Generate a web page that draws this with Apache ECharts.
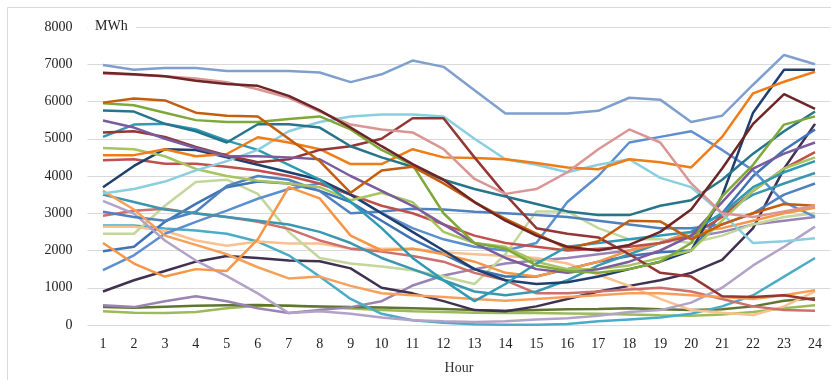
<!DOCTYPE html>
<html>
<head>
<meta charset="utf-8">
<script src="https://cdn.jsdelivr.net/npm/echarts@6/dist/echarts.min.js"></script>
<style>
  html, body { margin: 0; padding: 0; background: #ffffff; }
  #chart { width: 831px; height: 380px; }
</style>
</head>
<body>
<div id="chart"></div>
<script>
// Hourly load profiles (MWh) for 24 hours of the day
const hours = ['1','2','3','4','5','6','7','8','9','10','11','12','13','14','15','16','17','18','19','20','21','22','23','24'];
const yTicks = [0, 1000, 2000, 3000, 4000, 5000, 6000, 7000, 8000];

const loadSteelBlue   = [6980,6850,6900,6900,6820,6820,6820,6780,6520,6730,7100,6930,6300,5680,5680,5680,5750,6100,6050,5450,5620,6450,7250,7000];
const loadMaroon      = [6770,6730,6680,6560,6470,6420,6150,5760,5300,4800,4320,3900,3300,2800,2400,2100,2000,2150,2500,3100,4200,5400,6200,5800];
const loadRose        = [6750,6720,6680,6620,6520,6330,6100,5730,5380,5250,5170,4720,3920,3520,3650,4100,4720,5250,4900,3800,3000,2900,3050,3200];
const loadBurnt       = [5970,6080,6030,5700,5620,5600,5000,4400,3550,4150,4250,3800,3300,2850,2450,2050,2250,2800,2780,2300,2700,3000,3250,3200];
const loadGreen       = [5950,5900,5700,5500,5450,5450,5530,5600,5250,4700,4300,3000,2200,2050,1600,1450,1400,1500,1700,2200,3450,4300,5380,5600];
const loadTeal        = [5760,5730,5400,5200,4900,5390,5390,5300,4800,4500,4250,3900,3650,3450,3250,3050,2950,2950,3200,3350,3900,4600,5200,5730];
const loadPurple      = [5490,5300,5000,4750,4530,4530,4500,4450,4000,3600,3200,2700,2200,1800,1500,1400,1500,1700,2000,2400,3300,4200,4600,4900];
const loadBrickRed    = [5170,5200,5050,4780,4550,4370,4450,4700,4800,5000,5550,5550,4500,3500,2600,2450,2350,1900,1400,1300,770,750,800,670];
const loadAqua        = [5050,5380,5400,5250,4950,4700,4300,3900,3300,2600,1800,1200,640,1100,1650,2100,2200,2300,2400,2500,3000,3700,4100,4400];
const loadLime        = [4750,4720,4530,4190,4000,3870,3800,3700,3350,3550,3300,2500,2200,2100,1700,1500,1500,1600,1800,2000,2800,3600,4200,4500];
const loadOrange      = [4560,4560,4720,4530,4590,5040,4900,4720,4320,4320,4720,4500,4480,4450,4350,4230,4180,4450,4370,4230,5050,6220,6530,6800];
const loadRed         = [4420,4450,4330,4330,4250,4150,4000,3800,3500,3200,3000,2700,2400,2200,2100,2000,2050,2100,2200,2400,2900,3600,4200,4640];
const loadNavy        = [3700,4270,4720,4700,4500,4300,4100,3900,3500,3000,2500,2000,1500,1200,1100,1150,1300,1500,1700,2000,3470,5700,6850,6850];
const loadApricot     = [3600,3100,2400,2150,1900,1550,1250,1300,1050,850,800,750,700,650,700,750,800,850,850,800,750,700,800,930];
const loadTangerine   = [2200,1650,1300,1500,1450,2300,3700,3400,2400,2000,2050,1900,1700,1400,1300,1500,1700,2000,2200,2500,2600,2800,3000,3150];
const loadSkyCyan     = [3530,3650,3850,4150,4400,4700,5200,5450,5600,5650,5650,5600,5000,4450,4300,4100,4300,4450,3950,3700,2990,2200,2250,2330];
const loadLavender    = [3330,2990,2270,1730,1310,850,320,370,300,200,130,100,80,100,150,180,250,350,400,600,1000,1600,2100,2640];
const loadBlue        = [3040,2900,2800,3040,3730,4000,3900,3600,3000,3050,3120,3100,3040,3000,2950,2900,2800,2700,2600,2600,2700,3000,3500,3800];
const loadCoral       = [2930,3070,3120,2990,2900,2770,2580,2270,2050,1970,1850,1700,1400,1200,850,850,900,950,1000,900,700,500,400,380];
const loadCyan        = [2670,2670,2590,2540,2450,2240,1870,1300,700,300,130,60,20,10,10,30,100,150,200,300,500,800,1300,1800];
const loadPeach       = [2640,2640,2530,2270,2130,2240,2190,2190,2050,2050,2050,1950,1900,1850,1800,1650,1350,1050,700,400,330,270,500,900];
const loadPaleGreen   = [2450,2450,3200,3840,3900,3520,2500,1800,1650,1570,1470,1300,1100,1900,3050,3050,2600,2300,2300,2200,2400,2700,2900,3000];
const loadCobalt      = [1980,2100,2770,3250,3700,3850,3800,3600,3300,2800,2300,1900,1500,1300,1300,1500,1700,1850,1950,2000,3000,4000,4700,5250];
const loadCornflower  = [1470,1870,2450,2770,3070,3390,3650,3800,3500,3000,2600,2300,2100,2000,2200,3300,4000,4900,5050,5200,4700,4150,3300,2900];
const loadPlum        = [900,1200,1450,1700,1850,1800,1730,1710,1520,1000,850,640,400,370,500,700,900,1050,1200,1400,1750,2600,4200,5400];
const loadViolet      = [530,480,640,770,640,450,320,400,480,640,1060,1330,1500,1650,1730,1800,1900,2000,2200,2350,2500,2700,2800,2900];
const loadOlive       = [480,460,490,520,530,540,520,500,480,470,450,430,400,380,400,420,430,450,420,400,420,500,650,720];
const loadGrass       = [370,330,320,350,450,520,520,480,440,400,370,350,330,320,320,310,300,280,260,250,280,350,450,530];
const loadSteelTeal   = [3500,3300,3100,3000,2900,2800,2700,2500,2200,1800,1500,1200,900,800,900,1200,1600,1900,2200,2500,3000,3500,3800,4080];

const profiles = [
  { data: loadGrass,      color: '#9BBB59' },
  { data: loadOlive,      color: '#5F7530' },
  { data: loadViolet,     color: '#9983B5' },
  { data: loadPlum,       color: '#403151' },
  { data: loadCyan,       color: '#4BACC6' },
  { data: loadPeach,      color: '#FAC090' },
  { data: loadPaleGreen,  color: '#C3D69B' },
  { data: loadCobalt,     color: '#3E73B5' },
  { data: loadCornflower, color: '#5B8FD0' },
  { data: loadCoral,      color: '#CD6F6C' },
  { data: loadLavender,   color: '#B3A2C7' },
  { data: loadBlue,       color: '#4F81BD' },
  { data: loadSteelTeal,  color: '#3B97B0' },
  { data: loadApricot,    color: '#F7A05A' },
  { data: loadTangerine,  color: '#F79646' },
  { data: loadRed,        color: '#C0504D' },
  { data: loadNavy,       color: '#1F3F6E' },
  { data: loadLime,       color: '#A7C55E' },
  { data: loadAqua,       color: '#2F9AB4' },
  { data: loadSkyCyan,    color: '#8ACFDF' },
  { data: loadOrange,     color: '#F07C16' },
  { data: loadBrickRed,   color: '#943634' },
  { data: loadPurple,     color: '#7A5BA0' },
  { data: loadTeal,       color: '#27758A' },
  { data: loadGreen,      color: '#7FA83A' },
  { data: loadBurnt,      color: '#C45E0E' },
  { data: loadRose,       color: '#D99694' },
  { data: loadMaroon,     color: '#6E2525' },
  { data: loadSteelBlue,  color: '#7F9FCF' }
];

const chart = echarts.init(document.getElementById('chart'), null, { renderer: 'canvas' });

const textFont = 'Liberation Serif, Times New Roman, serif';

chart.setOption({
  animation: false,
  backgroundColor: '#ffffff',
  grid: { left: 87.5, right: 0.5, top: 27, bottom: 53, containLabel: false },
  xAxis: {
    type: 'category',
    data: hours,
    boundaryGap: true,
    name: 'Hour',
    nameLocation: 'middle',
    nameGap: 36,
    nameTextStyle: { fontFamily: textFont, fontSize: 14, color: '#333' },
    axisLine: { show: false },
    axisTick: { show: false },
    axisLabel: { fontFamily: textFont, fontSize: 14, color: '#222', margin: 12 },
    splitLine: { show: false }
  },
  yAxis: {
    type: 'value',
    min: yTicks[0],
    max: yTicks[yTicks.length - 1],
    interval: 1000,
    axisLine: { show: false },
    axisTick: { show: false },
    axisLabel: {
      fontFamily: textFont, fontSize: 14, color: '#222', margin: 15,
      formatter: v => String(v)
    },
    splitLine: { show: true, lineStyle: { color: '#D9D9D9', width: 1 } }
  },
  graphic: [
    {
      type: 'rect',
      shape: { x: 7.5, y: 7.5, width: 840, height: 400 },
      style: { fill: 'none', stroke: '#D9D9D9', lineWidth: 1 },
      silent: true
    },
    {
      type: 'rect',
      shape: { x: 88, y: 20, width: 48, height: 15 },
      style: { fill: '#ffffff' },
      silent: true,
      z: 50
    },
    {
      type: 'text',
      left: 95,
      top: 19,
      z: 51,
      style: { text: 'MWh', font: '14px ' + textFont, fill: '#222' }
    }
  ],
  series: profiles.map(p => ({
    type: 'line',
    data: p.data,
    showSymbol: false,
    symbol: 'none',
    smooth: false,
    lineStyle: { color: p.color, width: 2.5 },
    itemStyle: { color: p.color },
    emphasis: { disabled: true }
  }))
});
</script>
</body>
</html>
